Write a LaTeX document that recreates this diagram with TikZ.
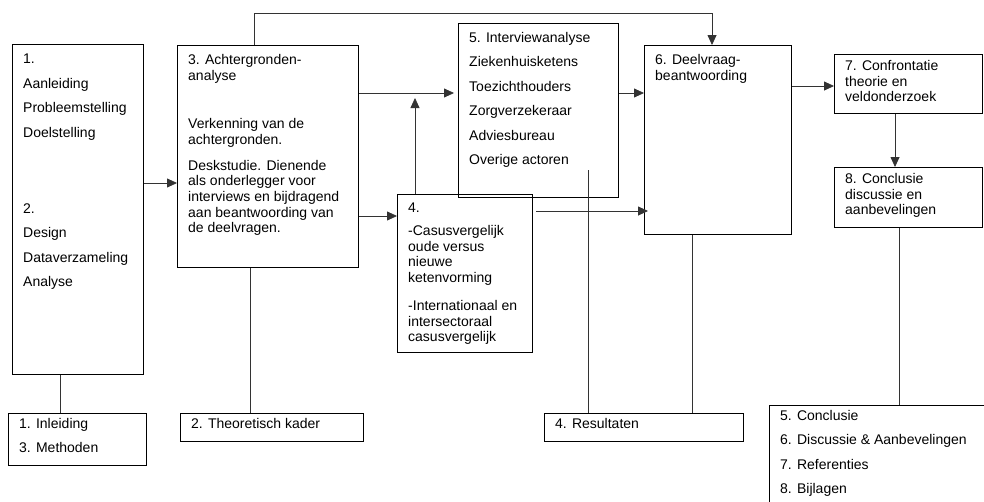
\documentclass[tikz,border=0pt]{standalone}
\usepackage{fontspec}
\setmainfont{Liberation Sans}
\usetikzlibrary{calc,positioning,arrows,arrows.meta}

\newcommand{\pgap}{\\[8.8pt]}

\begin{document}
\begin{tikzpicture}[x=1pt, y=-1pt, font=\fontsize{14}{15.7}\selectfont]
\tikzstyle{blk}=[draw, line width=0.8pt, anchor=north west, inner sep=0pt]
\tikzstyle{txt}=[anchor=north west, align=left, inner xsep=11pt, inner ysep=9pt]
\tikzstyle{ln}=[draw, line width=0.8pt, black!80]
\tikzstyle{arr}=[ln, -{Triangle[length=10pt,width=9pt]}]

\useasboundingbox (0,0) rectangle (984,501);

% boxes
\node[blk, minimum width=131, minimum height=330] (b1) at (12,44) {};
\node[txt, inner ysep=10pt] (b1t) at (b1.north west) {1.\pgap Aanleiding\pgap Probleemstelling\pgap Doelstelling\\[60pt]2.\pgap Design\pgap Dataverzameling\pgap Analyse};
\node[blk, minimum width=181, minimum height=222] (b3) at (177,45) {};
\node[txt] (b3t) at (b3.north west) {3. Achtergronden-\\analyse\\[33pt]Verkenning van de\\achtergronden.\\[10pt]Deskstudie. Dienende\\als onderlegger voor\\interviews en bijdragend\\aan beantwoording van\\de deelvragen.};
\node[blk, fill=white, minimum width=135, minimum height=158] (b4) at (397,194) {};
\node[txt] (b4t) at (b4.north west) {4.\\[7pt]-Casusvergelijk\\oude versus\\nieuwe\\ketenvorming\\[12pt]-Internationaal en\\intersectoraal\\casusvergelijk};
\node[blk, minimum width=160, minimum height=174] (b5) at (458,23) {};
\node[txt] (b5t) at (b5.north west) {5. Interviewanalyse\pgap Ziekenhuisketens\pgap Toezichthouders\pgap Zorgverzekeraar\pgap Adviesbureau\pgap Overige actoren};
\node[blk, minimum width=147, minimum height=189] (b6) at (644,45) {};
\node[txt] (b6t) at (b6.north west) {6. Deelvraag-\\beantwoording};
\node[blk, minimum width=148, minimum height=59] (b7) at (834,54) {};
\node[txt, inner ysep=6pt] (b7t) at (b7.north west) {7. Confrontatie\\theorie en\\veldonderzoek};
\node[blk, minimum width=148, minimum height=60] (b8) at (834,167) {};
\node[txt, inner ysep=6pt] (b8t) at (b8.north west) {8. Conclusie\\discussie en\\aanbevelingen};

% chapters
\node[blk, minimum width=138, minimum height=52] (c1) at (8,413) {};
\node[txt, inner ysep=5pt] (c1t) at (c1.north west) {1. Inleiding\pgap 3. Methoden};
\node[blk, minimum width=183, minimum height=28] (c2) at (180,413) {};
\node[txt, inner ysep=5pt] (c2t) at (c2.north west) {2. Theoretisch kader};
\node[blk, minimum width=199, minimum height=28] (c3) at (544,413) {};
\node[txt, inner ysep=5pt] (c3t) at (c3.north west) {4. Resultaten};
\node[blk, minimum width=230, minimum height=110] (c4) at (769,405) {};
\node[txt, inner ysep=5pt] (c4t) at (c4.north west) {5. Conclusie\pgap 6. Discussie \& Aanbevelingen\pgap 7. Referenties\pgap 8. Bijlagen};

% guides
\coordinate (k1) at (60,183);
\coordinate (k3) at (254,13);
\coordinate (top) at (712,13);
\coordinate (k3a) at (0,93);
\coordinate (k3b) at (0,216);
\coordinate (j4) at (415,98);
\coordinate (s4) at (536,211);
\coordinate (s5) at (588,170);
\coordinate (k6) at (692,86);
\coordinate (k2) at (250,0);
\coordinate (k7) at (895,0);
\coordinate (k8) at (899,0);

% connectors
\draw[ln] (b1.south -| k1) -- (c1.north -| k1);
\draw[arr] (b1.east |- k1) -- (b3.west |- k1);
\draw[arr] (b3.north -| k3) |- (top) -- (b6.north -| top);
\draw[arr, shorten >=4pt] (b3.east |- k3a) -- (b5.west |- k3a);
\draw[arr] (b3.east |- k3b) -- (b4.west |- k3b);
\draw[arr] (b4.north -| j4) -- (j4);
\draw[arr] (b5.east |- k3a) -- (b6.west |- k3a);
\draw[arr, shorten >=-4pt] (s4) -- (b6.west |- s4);
\draw[ln] (s5) -- (c3.north -| s5);
\draw[ln] (b6.south -| k6) -- (c3.north -| k6);
\draw[ln] (b3.south -| k2) -- (c2.north -| k2);
\draw[arr] (b6.east |- k6) -- (b7.west |- k6);
\draw[arr] (b7.south -| k7) -- (b8.north -| k7);
\draw[ln] (b8.south -| k8) -- (c4.north -| k8);
\end{tikzpicture}
\end{document}
